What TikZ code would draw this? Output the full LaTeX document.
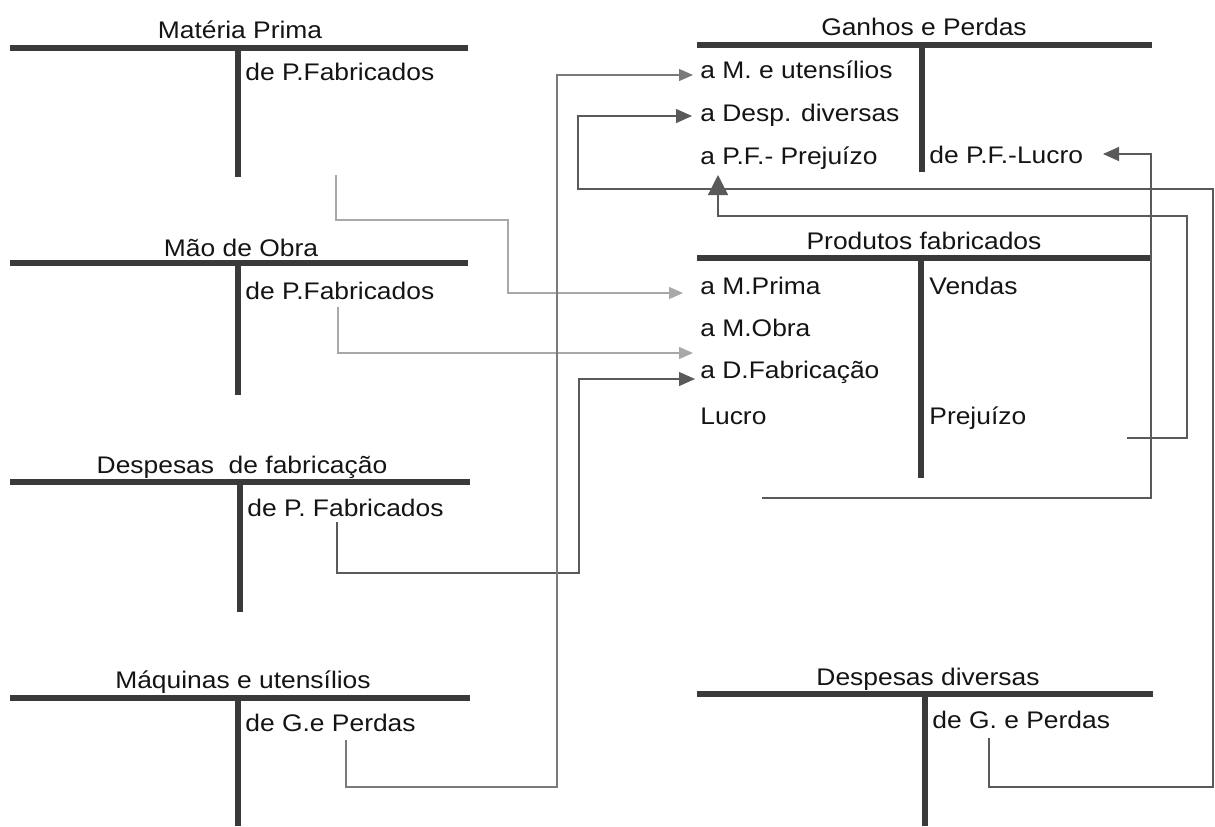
\documentclass[tikz,border=0pt]{standalone}
\usepackage{fontspec}
\setmainfont{Liberation Sans}[FakeStretch=1.1]
\usetikzlibrary{arrows.meta}
\definecolor{rulec}{HTML}{3A3A3A}
\definecolor{darkc}{HTML}{5A5A5A}
\definecolor{midc}{HTML}{7A7A7A}
\definecolor{lightc}{HTML}{A8A8A8}
\definecolor{textc}{HTML}{141414}
\tikzset{
  rulel/.style={line width=2.6pt,draw=rulec},
  lbl/.style={inner sep=0pt,text height=0.716em,text depth=0pt,
    font=\fontsize{12}{14}\selectfont,text=textc},
  ttl/.style={lbl,anchor=center},
  ent/.style={lbl,anchor=west},
  conn/.style={line width=0.65pt,draw=darkc},
  connmid/.style={line width=0.65pt,draw=midc},
  connlight/.style={line width=0.65pt,draw=lightc},
  tipsmall/.style={-{Triangle[length=7pt,width=6pt]}},
  tipmid/.style={-{Triangle[length=8pt,width=7pt]}},
  tipbig/.style={-{Triangle[length=10pt,width=10pt]}}
}
\begin{document}
\begin{tikzpicture}[x=0.5pt,y=-0.5pt]
\useasboundingbox (0,0) rectangle (1215,826);

% ---------- Left accounts ----------
% Materia Prima
\draw[rulel] (10,48) -- (468,48);
\draw[rulel] (238,48) -- (238,177);
\node[ttl] (mpT) at (240,31) {Matéria Prima};
\node[ent] (mpE) at (245,73.5) {de P.Fabricados};

% Mao de Obra
\draw[rulel] (10,263) -- (468,263);
\draw[rulel] (238,263) -- (238,395);
\node[ttl] (moT) at (241,249.5) {Mão de Obra};
\node[ent] (moE) at (245,292.5) {de P.Fabricados};

% Despesas de fabricacao
\draw[rulel] (10,482) -- (470,482);
\draw[rulel] (240,482) -- (240,612);
\node[ttl] (dfT) at (242,466.5) {Despesas\ \ de fabricação};
\node[ent] (dfE) at (247,509.5) {de P. Fabricados};

% Maquinas e utensilios
\draw[rulel] (10,698) -- (470,698);
\draw[rulel] (238,698) -- (238,826);
\node[ttl] (muT) at (243,681.5) {Máquinas e utensílios};
\node[ent] (muE) at (245,724) {de G.e Perdas};

% ---------- Right accounts ----------
% Ganhos e Perdas
\draw[rulel] (697,45) -- (1152,45);
\draw[rulel] (922,45) -- (922,172);
\node[ttl] (gpT) at (924,28) {Ganhos e Perdas};
\node[ent] (gpMU) at (700,71) {a M. e utensílios};
\node[ent] (gpDD) at (700,114) {a Desp. diversas};
\node[ent] (gpPF) at (700,157) {a P.F.- Prejuízo};
\node[ent] (gpL) at (929,156) {de P.F.-Lucro};

% Produtos fabricados
\draw[rulel] (697,258) -- (1152,258);
\draw[rulel] (921,258) -- (921,478);
\node[ttl] (pfT) at (924,242) {Produtos fabricados};
\node[ent] (pfMP) at (700,287) {a M.Prima};
\node[ent] (pfMO) at (700,329) {a M.Obra};
\node[ent] (pfDF) at (700,371) {a D.Fabricação};
\node[ent] (pfLu) at (700,417) {Lucro};
\node[ent] (pfV) at (929,287) {Vendas};
\node[ent] (pfPr) at (929,417) {Prejuízo};

% Despesas diversas
\draw[rulel] (697,694) -- (1153,694);
\draw[rulel] (925,694) -- (925,826);
\node[ttl] (ddT) at (928,678) {Despesas diversas};
\node[ent] (ddE) at (932,721.5) {de G. e Perdas};

% ---------- Connector end points ----------
\coordinate (cA0) at (336,175);
\coordinate (cA1) at (683,293);
\coordinate (cB0) at (338,307);
\coordinate (cB1) at (693,353);
\coordinate (cC0) at (337,522);
\coordinate (cC1) at (695,379);
\coordinate (cD0) at (346,740);
\coordinate (cD1) at (693,75);
\coordinate (cE0) at (989,738);
\coordinate (cE1) at (692,116);
\coordinate (cF0) at (1127,438);
\coordinate (cF1) at (718,175);
\coordinate (cG0) at (762,498);
\coordinate (cG1) at (1103,154);

% ---------- Connectors ----------
% Materia Prima -> a M.Prima
\draw[connlight,tipsmall] (cA0) -- (336,220) -- (508,220) -- (508,293) -- (cA1);
% Mao de Obra -> a M.Obra
\draw[connlight,tipsmall] (cB0) -- (338,353) -- (cB1);
% Despesas de fabricacao -> a D.Fabricacao
\draw[conn,tipmid] (cC0) -- (337,573) -- (579,573) -- (579,379) -- (cC1);
% Maquinas e utensilios -> a M. e utensilios
\draw[connmid,tipsmall] (cD0) -- (346,787) -- (557,787) -- (557,75) -- (cD1);
% Despesas diversas -> a Desp. diversas
\draw[conn,tipmid] (cE0) -- (989,787) -- (1213,787) -- (1213,189) -- (578,189) -- (578,116) -- (cE1);
% Prejuizo (Produtos fabricados) -> a P.F.- Prejuizo
\draw[conn,tipbig] (cF0) -- (1187,438) -- (1187,216) -- (718,216) -- (cF1);
% Lucro (Produtos fabricados) -> de P.F.-Lucro
\draw[conn,tipmid] (cG0) -- (1151,498) -- (1151,154) -- (cG1);
\end{tikzpicture}
\end{document}
